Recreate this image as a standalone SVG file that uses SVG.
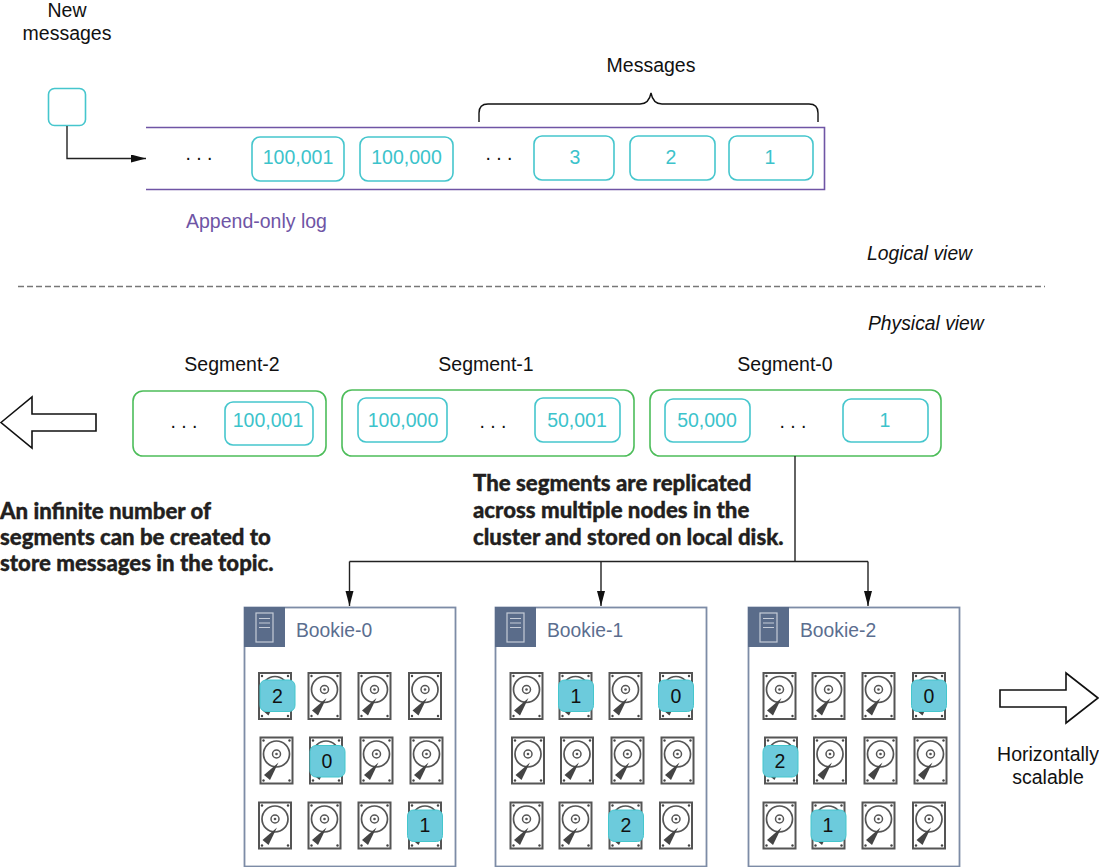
<svg xmlns="http://www.w3.org/2000/svg" width="1099" height="867" viewBox="0 0 1099 867">
<style>
text{font-family:"Liberation Sans",Arial,sans-serif;fill:#111}
.m{text-anchor:middle}
.b{font-size:19.5px}
.t{font-size:19.5px;fill:#3cc3cb;text-anchor:middle}
.cell{fill:#fff;stroke:#45c6cd;stroke-width:1.6}
.seg{fill:#fff;stroke:#4dbd5a;stroke-width:1.6}
.dots{font-size:19.5px;text-anchor:middle}
.note{font-family:Lato,"Open Sans",sans-serif;font-weight:900;font-size:22.2px;fill:#231f20;stroke:#231f20;stroke-width:.35px}
.it{font-size:19.3px;font-style:italic}
.con{fill:none;stroke:#222;stroke-width:1.4}
.big{fill:#fff;stroke:#111;stroke-width:1.6}
.bk{fill:#fff;stroke:#7d8ca6;stroke-width:1.8}
.hd{fill:#5a6c8a}
.bl{font-size:19.3px;fill:#5b6e8f}
.chip{fill:#6ccbdc;stroke:#45c6cd;stroke-width:1}
.n{font-size:19.5px;text-anchor:middle}
</style>
<defs>
<marker id="a" markerWidth="16" markerHeight="10" refX="15" refY="4" orient="auto" markerUnits="userSpaceOnUse"><path d="M0 0L15 4L0 8z" fill="#111"/></marker>
<g id="srv"><rect x="12" y="6" width="17" height="29" fill="none" stroke="#c5ccd8" stroke-width="1.2"/><path d="M15 11.500h11M15 16h11M15 20.500h11" stroke="#c5ccd8" stroke-width="1"/></g>
<g id="d">
<rect x="1" y="1" width="32" height="46" fill="#fff" stroke="#555" stroke-width="2"/>
<circle cx="17" cy="17.500" r="13" fill="#fff" stroke="#555" stroke-width="1.7"/>
<circle cx="17" cy="17.500" r="4" fill="none" stroke="#555" stroke-width="1.500"/>
<circle cx="17" cy="17.500" r="1.300" fill="#555"/>
<path d="M19 26L10.500 43.500L4.500 38.500z" fill="#444"/>
<circle cx="4" cy="4" r="1.200" fill="#444"/><circle cx="30" cy="4" r="1.200" fill="#444"/><circle cx="4" cy="44" r="1.200" fill="#444"/><circle cx="30" cy="44" r="1.200" fill="#444"/>
</g>
</defs>

<g id="new-messages"><text class="b m" x="67" y="17">New</text><text class="b m" x="67" y="40">messages</text><rect class="cell" x="48.500" y="88.500" width="37" height="37" rx="6"/></g>

<g id="log">
<path d="M146 127.500H824.500V189.500H146" fill="none" stroke="#6f55a5" stroke-width="1.6"/>
<text x="186" y="228" font-size="19.500" style="fill:#6f55a5">Append-only log</text>
<text class="dots" x="199" y="160">. . .</text>
<text class="dots" x="499" y="160">. . .</text>
</g>
<g id="msg-100001"><rect class="cell" x="252" y="137" width="92" height="44" rx="8"/><text class="t" x="298" y="164">100,001</text></g>
<g id="msg-100000"><rect class="cell" x="360" y="137" width="93" height="44" rx="8"/><text class="t" x="406.500" y="164">100,000</text></g>
<g id="msg-3"><rect class="cell" x="534" y="136" width="80" height="44" rx="8"/><text class="t" x="575" y="164">3</text></g>
<g id="msg-2"><rect class="cell" x="630" y="136" width="85" height="44" rx="8"/><text class="t" x="671" y="164">2</text></g>
<g id="msg-1"><rect class="cell" x="729" y="136" width="84" height="44" rx="8"/><text class="t" x="770" y="164">1</text></g>

<g id="messages-brace"><text class="b m" x="651" y="72">Messages</text><path d="M479 122V113Q479 104 488 104H640Q649 104 651 93Q653 104 662 104H809Q818 104 818 113V122" fill="none" stroke="#111" stroke-width="1.400"/></g>

<text class="it" x="867" y="260">Logical view</text>
<path d="M18 286.500H1045" stroke="#777" stroke-width="1.300" stroke-dasharray="6 3" fill="none"/>
<text class="it" x="868" y="330">Physical view</text>

<g id="segment-2"><text class="b m" x="232" y="371">Segment-2</text><rect class="seg" x="133" y="391" width="193" height="65" rx="10"/><text class="dots" x="184" y="428">. . .</text><rect class="cell" x="225" y="402" width="88" height="43" rx="8"/><text class="t" x="268" y="427">100,001</text></g>
<g id="segment-1"><text class="b m" x="486" y="371">Segment-1</text><rect class="seg" x="342" y="390" width="292" height="66" rx="10"/><rect class="cell" x="358" y="398" width="89" height="44" rx="8"/><text class="t" x="403" y="427">100,000</text><text class="dots" x="493" y="428">. . .</text><rect class="cell" x="535" y="398" width="85" height="44" rx="8"/><text class="t" x="577" y="427">50,001</text></g>
<g id="segment-0"><text class="b m" x="785" y="371">Segment-0</text><rect class="seg" x="650" y="390" width="291" height="66" rx="10"/><rect class="cell" x="665" y="399" width="85" height="43" rx="8"/><text class="t" x="707" y="427">50,000</text><text class="dots" x="793" y="428">. . .</text><rect class="cell" x="843" y="399" width="85" height="43" rx="8"/><text class="t" x="885" y="427">1</text></g>

<path id="arrow-left" class="big" d="M1 422.500L32 397V414H96V431H32V448z"/>
<g id="note-infinite"><text class="note" x="0" y="519">An infinite number of</text><text class="note" x="0" y="545">segments can be created to</text><text class="note" x="0" y="571">store messages in the topic.</text></g>
<g id="note-replicated"><text class="note" x="473" y="491">The segments are replicated</text><text class="note" x="473" y="518">across multiple nodes in the</text><text class="note" x="473" y="545">cluster and stored on local disk.</text></g>

<g id="connectors">
<path class="con" d="M67 126V158.500H146" marker-end="url(#a)"/>
<path class="con" d="M795 456V561.500"/>
<path class="con" d="M349.500 561.500H868"/>
<path class="con" d="M349.500 561.500V606" marker-end="url(#a)"/>
<path class="con" d="M601 561.500V606" marker-end="url(#a)"/>
<path class="con" d="M868 561.500V606" marker-end="url(#a)"/>
</g>

<g id="bookie-0"><rect class="bk" x="244.500" y="607.500" width="211" height="259"/><rect class="hd" x="244" y="607" width="41" height="40"/><use href="#srv" x="244" y="607"/><text class="bl" x="296" y="637">Bookie-0</text>
<use href="#d" x="258" y="672"/><use href="#d" x="307.500" y="672"/><use href="#d" x="357.500" y="672"/><use href="#d" x="408" y="672"/>
<use href="#d" x="259.500" y="736.500"/><use href="#d" x="309" y="736.500"/><use href="#d" x="359.500" y="736.500"/><use href="#d" x="409.500" y="736.500"/>
<use href="#d" x="258" y="801.500"/><use href="#d" x="307.500" y="801.500"/><use href="#d" x="357.500" y="801.500"/><use href="#d" x="408" y="801.500"/>
<rect class="chip" x="260" y="680" width="35" height="31.500" rx="6"/><text class="n" x="277.500" y="703">2</text>
<rect class="chip" x="310" y="745.500" width="35" height="31.500" rx="6"/><text class="n" x="327" y="768">0</text>
<rect class="chip" x="407.500" y="810" width="35" height="31.500" rx="6"/><text class="n" x="425" y="832">1</text>
</g>

<g id="bookie-1"><rect class="bk" x="495.500" y="607.500" width="211" height="259"/><rect class="hd" x="495" y="607" width="41" height="40"/><use href="#srv" x="495" y="607"/><text class="bl" x="547" y="637">Bookie-1</text>
<use href="#d" x="509.500" y="672"/><use href="#d" x="558.500" y="672"/><use href="#d" x="608.500" y="672"/><use href="#d" x="659" y="672"/>
<use href="#d" x="511" y="736.500"/><use href="#d" x="560" y="736.500"/><use href="#d" x="610.500" y="736.500"/><use href="#d" x="660.500" y="736.500"/>
<use href="#d" x="509.500" y="801.500"/><use href="#d" x="558.500" y="801.500"/><use href="#d" x="608.500" y="801.500"/><use href="#d" x="659" y="801.500"/>
<rect class="chip" x="558.500" y="680" width="35" height="31.500" rx="6"/><text class="n" x="576" y="703">1</text>
<rect class="chip" x="658.500" y="680" width="35" height="31.500" rx="6"/><text class="n" x="676" y="703">0</text>
<rect class="chip" x="608.500" y="810" width="35" height="31.500" rx="6"/><text class="n" x="626" y="832">2</text>
</g>

<g id="bookie-2"><rect class="bk" x="748.500" y="607.500" width="211" height="259"/><rect class="hd" x="748" y="607" width="41" height="40"/><use href="#srv" x="748" y="607"/><text class="bl" x="800" y="637">Bookie-2</text>
<use href="#d" x="762.500" y="672"/><use href="#d" x="811.500" y="672"/><use href="#d" x="861.500" y="672"/><use href="#d" x="912" y="672"/>
<use href="#d" x="764" y="736.500"/><use href="#d" x="813" y="736.500"/><use href="#d" x="863.500" y="736.500"/><use href="#d" x="913.500" y="736.500"/>
<use href="#d" x="762.500" y="801.500"/><use href="#d" x="811.500" y="801.500"/><use href="#d" x="861.500" y="801.500"/><use href="#d" x="912" y="801.500"/>
<rect class="chip" x="911.500" y="680" width="35" height="31.500" rx="6"/><text class="n" x="929" y="703">0</text>
<rect class="chip" x="763" y="745.500" width="35" height="31.500" rx="6"/><text class="n" x="780" y="768">2</text>
<rect class="chip" x="811" y="810" width="35" height="31.500" rx="6"/><text class="n" x="828" y="832">1</text>
</g>

<path id="arrow-right" class="big" d="M1098 698L1066 673V690H1000V707H1066V723z"/>
<g id="horizontally-scalable"><text class="b m" x="1048" y="761">Horizontally</text><text class="b m" x="1048" y="784">scalable</text></g>
</svg>
